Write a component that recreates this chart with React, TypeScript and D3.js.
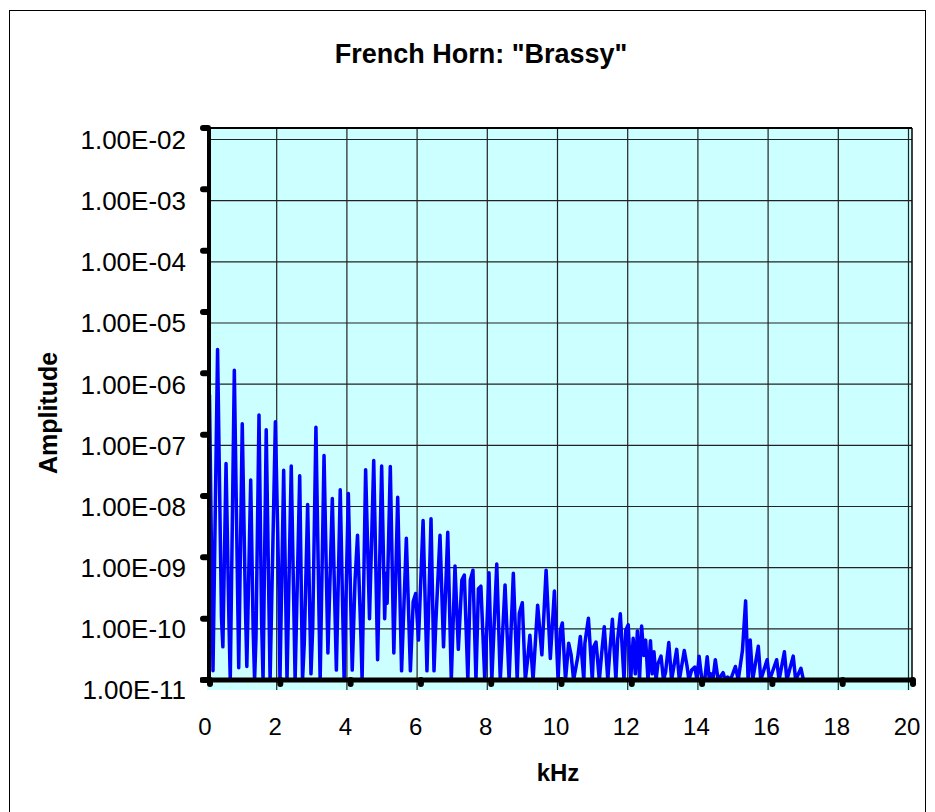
import React from 'react';
import * as d3 from 'd3';

// spectrum: frequency in kHz, amplitude (floor is 1e-11)
const freqKHz = [
  0.07, 0.17, 0.30, 0.41, 0.45, 0.54, 0.62, 0.66, 0.775, 0.87, 0.90, 1.00, 1.09, 1.13, 1.24, 1.31, 1.35, 1.39,
  1.475, 1.55, 1.59, 1.68, 1.79, 1.94, 2.04, 2.07, 2.175, 2.27, 2.39, 2.50, 2.63, 2.71, 2.76, 2.855, 2.95, 3.0,
  3.09, 3.18, 3.21, 3.32, 3.43, 3.555, 3.67, 3.78, 3.89, 4.01, 4.12, 4.20, 4.27, 4.37, 4.40, 4.50, 4.61, 4.73,
  4.84, 4.955, 5.04, 5.08, 5.11, 5.20, 5.30, 5.41, 5.52, 5.655, 5.77, 5.85, 5.92, 6.0, 6.13, 6.24, 6.355, 6.44,
  6.49, 6.61, 6.71, 6.83, 6.93, 7.035, 7.13, 7.23, 7.30, 7.40, 7.47, 7.545, 7.63, 7.70, 7.77, 7.88, 8.0, 8.08,
  8.22, 8.32, 8.455, 8.57, 8.69, 8.80, 8.86, 8.945, 9.03, 9.09, 9.16, 9.25, 9.38, 9.50, 9.62, 9.74, 9.855, 9.96,
  10.02, 10.08, 10.17, 10.26, 10.33, 10.40, 10.52, 10.59, 10.69, 10.72, 10.82, 10.93, 10.97, 11.035, 11.13, 11.20,
  11.27, 11.37, 11.43, 11.50, 11.60, 11.65, 11.725, 11.83, 11.88, 11.95, 12.02, 12.09, 12.15, 12.21, 12.27, 12.33,
  12.39, 12.445, 12.51, 12.58, 12.63, 12.68, 12.74, 12.79, 12.88, 12.95, 13.01, 13.10, 13.18, 13.325, 13.40, 13.54,
  13.62, 13.67, 13.75, 13.84, 13.90, 13.96, 14.04, 14.12, 14.19, 14.25, 14.30, 14.35, 14.42, 14.50, 14.64, 14.70,
  14.77, 14.85, 14.99, 15.07, 15.19, 15.28, 15.35, 15.41, 15.48, 15.64, 15.71, 15.89, 15.96, 16.16, 16.23, 16.38,
  16.45, 16.63, 16.70, 16.85, 16.92, 20,
];
const amplitude = [
  4.47e-7, 1.41e-11, 2.45e-6, 1.07e-10, 3.47e-11, 3.39e-8, 1.07e-10, 1e-11, 1.12e-6, 2.29e-10, 1.58e-11, 1.51e-7, 1.58e-10, 1.66e-11, 1.82e-8, 6.46e-11, 1e-11, 5.01e-11,
  2.09e-7, 8.51e-11, 1e-11, 1.2e-7, 1e-11, 1.62e-7, 2.95e-10, 1e-11, 2.63e-8, 1e-11, 3.09e-8, 1e-11, 2.14e-8, 1e-11, 3.98e-11, 7.24e-9, 1.26e-11, 7.41e-11,
  1.32e-7, 1e-10, 1e-11, 4.57e-8, 2.75e-11, 9.12e-9, 1.45e-11, 1.26e-8, 1e-11, 1.1e-8, 1.45e-11, 4.27e-10, 2.29e-9, 4.47e-11, 1e-11, 2.69e-8, 1e-10, 3.8e-8,
  2.14e-11, 3.09e-8, 1e-10, 5.5e-10, 1.78e-10, 3.02e-8, 2.75e-11, 9.55e-9, 1.41e-11, 2.04e-9, 1.41e-11, 1.91e-10, 2.57e-10, 4.47e-11, 3.98e-9, 1.41e-11, 4.27e-9, 1.41e-11,
  8.32e-11, 2.29e-9, 3.47e-11, 2.57e-9, 1e-11, 7.24e-10, 3.16e-11, 4.27e-10, 5.13e-10, 1e-11, 4.27e-10, 6.17e-10, 1e-11, 3.09e-10, 3.39e-10, 1e-11, 5.62e-10, 1e-11,
  7.76e-10, 1e-11, 3.55e-10, 1e-11, 5.5e-10, 1e-11, 1.23e-10, 1.82e-10, 1e-11, 2.0e-11, 5.37e-11, 1e-11, 1.66e-10, 2.57e-11, 6.17e-10, 2.24e-11, 2.82e-10, 1e-11,
  6.17e-11, 8.51e-11, 1e-11, 3.98e-11, 2.57e-11, 1e-11, 2.4e-11, 5.13e-11, 1e-11, 3.98e-11, 1.02e-10, 1e-11, 3.47e-11, 4.17e-11, 1e-11, 2.88e-11,
  7.41e-11, 1e-11, 3.09e-11, 9.77e-11, 1e-11, 4.57e-11, 1.2e-10, 1e-11, 6.46e-11, 7.94e-11, 1e-11, 4.79e-11, 1.26e-11, 6.31e-11, 1e-11, 7.59e-11,
  2.51e-11, 4.47e-11, 1e-11, 4.37e-11, 1.26e-11, 2.88e-11, 1e-11, 1.82e-11, 2.45e-11, 1e-11, 1.35e-11, 4.07e-11, 1e-11, 3.16e-11, 1e-11, 3.02e-11,
  1.66e-11, 1e-11, 1.45e-11, 1.62e-11, 1e-11, 2.45e-11, 1e-11, 1e-11, 2.4e-11, 1e-11, 1.26e-11, 1e-11, 2.14e-11, 1e-11, 1.32e-11, 1e-11,
  1.12e-11, 1e-11, 1.66e-11, 1e-11, 3.02e-11, 1.95e-10, 1e-11, 4.47e-11, 1e-11, 3.55e-11, 1e-11, 2.14e-11, 1e-11, 2.14e-11, 1e-11, 2.88e-11,
  1e-11, 2.45e-11, 1e-11, 1.55e-11, 1e-11, 1e-11,
];

const xTicks = [0, 2, 4, 6, 8, 10, 12, 14, 16, 18, 20];
const yTicks = [1e-2, 1e-3, 1e-4, 1e-5, 1e-6, 1e-7, 1e-8, 1e-9, 1e-10, 1e-11];
const yTickLabels = ['1.00E-02', '1.00E-03', '1.00E-04', '1.00E-05', '1.00E-06', '1.00E-07', '1.00E-08', '1.00E-09', '1.00E-10', '1.00E-11'];

const FONT = '"Liberation Sans", Arial, sans-serif';

const App: React.FC = () => {
  const left = 207, right = 912, top = 128, bottom = 680;

  // data / axis-tick scales
  const x = d3.scaleLinear().domain([0, 20]).range([left, right]);
  const y = d3.scaleLog().domain([1e-11, 1e-2]).range([bottom, top]);
  // gridlines and labels sit a little off the axis ticks (as in the original render)
  const xGrid = d3.scaleLinear().domain([0, 20]).range([206.5, 908.5]);
  const yGrid = d3.scaleLog().domain([1e-11, 1e-2]).range([690, 139.5]);

  const pts = freqKHz.map((f, i) => [f, amplitude[i]] as [number, number]);
  const line = d3.line<[number, number]>()
    .x(d => x(d[0]))
    .y(d => y(Math.max(d[1], 1e-11)));

  return (
    <svg width={935} height={812} style={{ position: 'absolute', left: 0, top: 0, background: '#fff' }}>
      <defs>
        <clipPath id="plotClip">
          <rect x={left} y={top} width={right - left} height={bottom - top + 2} />
        </clipPath>
      </defs>
      <rect x={0} y={0} width={935} height={812} fill="#fff" />
      <rect x={9.5} y={10.5} width={916} height={830} fill="none" stroke="#000" strokeWidth={1} />

      <text x={481} y={63} textAnchor="middle" fontFamily={FONT} fontWeight="bold" fontSize={27}>
        French Horn: "Brassy"
      </text>

      <rect x={left} y={top} width={right - left} height={690 - top} fill="#CCFFFF" />

      {yTicks.slice(0, 9).map(t => (
        <line key={'gy' + t} x1={left} x2={right} y1={yGrid(t)} y2={yGrid(t)} stroke="#222" strokeWidth={1.2} />
      ))}
      {xTicks.slice(1).map(t => (
        <line key={'gx' + t} x1={xGrid(t)} x2={xGrid(t)} y1={top} y2={690} stroke="#222" strokeWidth={1.2} />
      ))}

      <path d={line(pts) || ''} fill="none" stroke="#0000FF" strokeWidth={3.5} strokeLinejoin="round"
        clipPath="url(#plotClip)" />

      {/* plot frame */}
      <line x1={left} x2={right} y1={top} y2={top} stroke="#000" strokeWidth={2} />
      <line x1={right} x2={right} y1={top} y2={bottom} stroke="#000" strokeWidth={1.5} />

      {/* axes */}
      <line x1={209} x2={209} y1={top} y2={bottom} stroke="#000" strokeWidth={4} />
      <line x1={200} x2={914} y1={bottom} y2={bottom} stroke="#000" strokeWidth={5} />
      {yTicks.map(t => (
        <line key={'ty' + t} x1={203} x2={208} y1={y(t)} y2={y(t)} stroke="#000" strokeWidth={6} strokeLinecap="round" />
      ))}
      {xTicks.map(t => (
        <line key={'tx' + t} x1={x(t) + 3 - t * 0.1} x2={x(t) + 3 - t * 0.1} y1={bottom} y2={bottom + 4}
          stroke="#000" strokeWidth={6} strokeLinecap="round" />
      ))}

      {yTicks.map((t, i) => (
        <text key={'ly' + t} x={186} y={yGrid(t)} dy="0.36em" textAnchor="end" fontFamily={FONT} fontSize={26}>
          {yTickLabels[i]}
        </text>
      ))}
      {xTicks.map(t => (
        <text key={'lx' + t} x={xGrid(t) - 1.5} y={735} textAnchor="middle" fontFamily={FONT} fontSize={24}>
          {t}
        </text>
      ))}

      <text x={558} y={781} textAnchor="middle" fontFamily={FONT} fontWeight="bold" fontSize={24}>kHz</text>
      <text transform="translate(57,413) rotate(-90)" textAnchor="middle" fontFamily={FONT} fontWeight="bold" fontSize={25}>
        Amplitude
      </text>
    </svg>
  );
};

export default App;
